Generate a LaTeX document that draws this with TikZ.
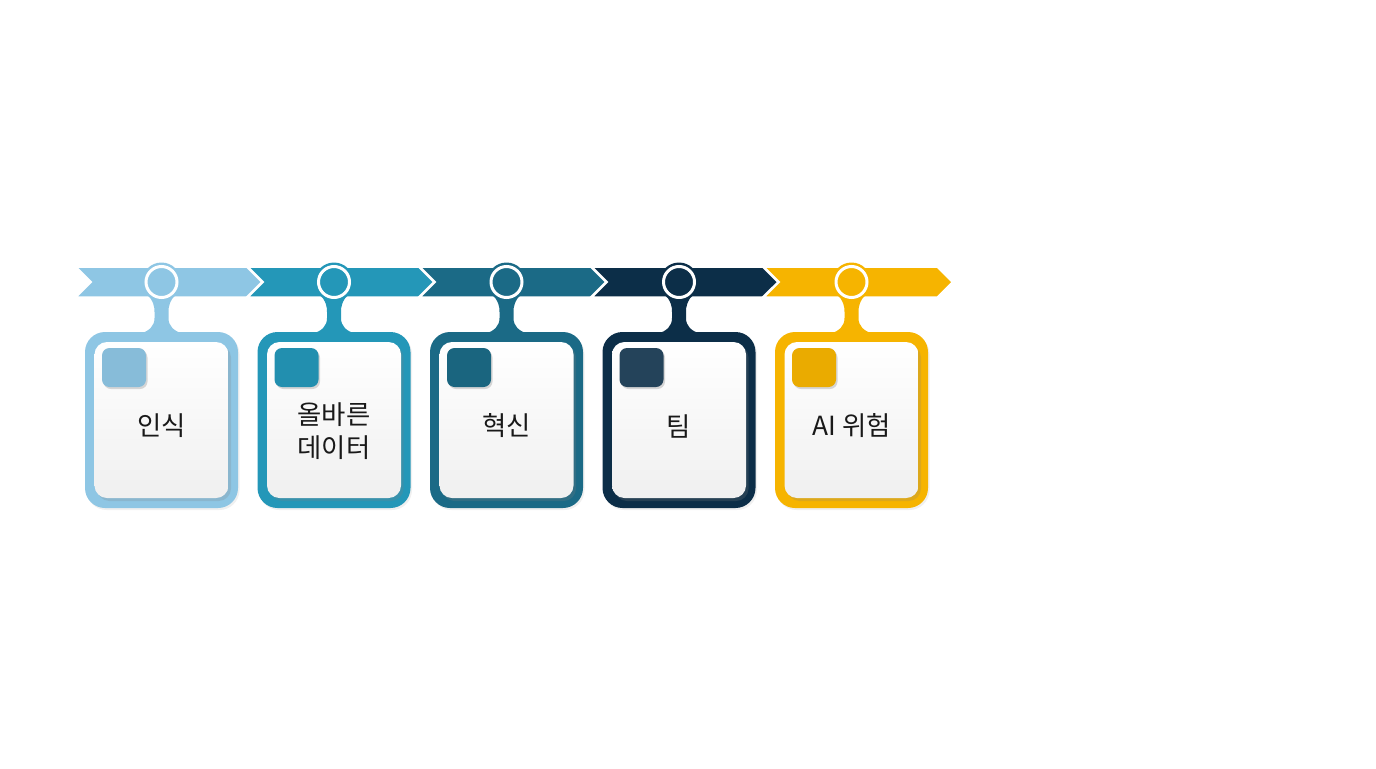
\documentclass[tikz,border=0pt]{standalone}
\usepackage{xcolor}
\usepackage{fontspec}
\setmainfont{Noto Sans CJK KR}
\usepackage{tikz}
\usetikzlibrary{shapes.symbols,shadows}

\definecolor{stepA}{HTML}{8EC6E4}
\definecolor{stepB}{HTML}{2497B8}
\definecolor{stepC}{HTML}{1B6A86}
\definecolor{stepD}{HTML}{0C2E48}
\definecolor{stepE}{HTML}{F6B400}

\begin{document}
\begin{tikzpicture}[every node/.style={font=\fontsize{15}{19}\selectfont, text=black!90},
    chevron/.style={signal, signal from=west, signal to=east, signal pointer angle=90, draw=white, line width=0.05cm, minimum width=3.8cm, minimum height=0.62cm, inner sep=0pt},
    dot/.style={circle, minimum size=0.78cm, inner sep=0pt},
    ring/.style={draw=white, line width=0.06cm},
    neck/.pic={\fill[pic actions] (-0.28,-0.24) .. controls (-0.16,-0.40) and (-0.14,-0.48) .. (-0.14,-0.60) -- (-0.14,-0.72) .. controls (-0.14,-0.88) and (-0.24,-0.98) .. (-0.44,-1.04) -- (0.44,-1.04) .. controls (0.24,-0.98) and (0.14,-0.88) .. (0.14,-0.72) -- (0.14,-0.60) .. controls (0.14,-0.48) and (0.16,-0.40) .. (0.28,-0.24) -- cycle;},
    frame/.style={draw=none, rectangle, rounded corners=0.4cm, minimum width=3.06cm, minimum height=3.52cm, drop shadow={shadow xshift=0.03cm, shadow yshift=-0.04cm, opacity=0.12}},
    card/.style={rectangle, rounded corners=0.25cm, minimum width=2.68cm, minimum height=3.12cm, top color=white, bottom color=black!6, drop shadow={shadow xshift=0.05cm, shadow yshift=-0.06cm, opacity=0.22}},
    icon/.style={rectangle, rounded corners=0.15cm, minimum width=0.88cm, minimum height=0.78cm, drop shadow={shadow xshift=0.03cm, shadow yshift=-0.04cm, opacity=0.3}}]
    \useasboundingbox (0,0) rectangle (27.52,-15.36);

    % Arrow band
    \node[chevron, fill=stepA] (arrow1) at (3.40,-5.64) {};
    \node[chevron, fill=stepB] (arrow2) at (6.84,-5.64) {};
    \node[chevron, fill=stepC] (arrow3) at (10.28,-5.64) {};
    \node[chevron, fill=stepD] (arrow4) at (13.72,-5.64) {};
    \node[chevron, fill=stepE] (arrow5) at (17.16,-5.64) {};

    % Necks down to the frames
    \pic[fill=stepA] (neck1) at (3.23,-5.64) {neck};
    \pic[fill=stepB] (neck2) at (6.68,-5.64) {neck};
    \pic[fill=stepC] (neck3) at (10.13,-5.64) {neck};
    \pic[fill=stepD] (neck4) at (13.58,-5.64) {neck};
    \pic[fill=stepE] (neck5) at (17.03,-5.64) {neck};

    % Dots on the band
    \node[dot, fill=stepA] (dot1) at (3.23,-5.64) {};
    \node[dot, fill=stepB] (dot2) at (6.68,-5.64) {};
    \node[dot, fill=stepC] (dot3) at (10.13,-5.64) {};
    \node[dot, fill=stepD] (dot4) at (13.58,-5.64) {};
    \node[dot, fill=stepE] (dot5) at (17.03,-5.64) {};
    \draw[ring] (dot1) circle (0.31cm);
    \draw[ring] (dot2) circle (0.31cm);
    \draw[ring] (dot3) circle (0.31cm);
    \draw[ring] (dot4) circle (0.31cm);
    \draw[ring] (dot5) circle (0.31cm);

    % Frames
    \node[frame, fill=stepA] (frame1) at (3.23,-8.4) {};
    \node[frame, fill=stepB] (frame2) at (6.68,-8.4) {};
    \node[frame, fill=stepC] (frame3) at (10.13,-8.4) {};
    \node[frame, fill=stepD] (frame4) at (13.58,-8.4) {};
    \node[frame, fill=stepE] (frame5) at (17.03,-8.4) {};

    % Cards
    \node[card] (card1) at (3.23,-8.4) {};
    \node[card] (card2) at (6.68,-8.4) {};
    \node[card] (card3) at (10.13,-8.4) {};
    \node[card] (card4) at (13.58,-8.4) {};
    \node[card] (card5) at (17.03,-8.4) {};

    \node[icon, fill=stepA!95!black] (icon1) at (2.48,-7.35) {};
    \node[icon, fill=stepB!95!black] (icon2) at (5.93,-7.35) {};
    \node[icon, fill=stepC!95!black] (icon3) at (9.38,-7.35) {};
    \node[icon, fill=stepD!90!white] (icon4) at (12.83,-7.35) {};
    \node[icon, fill=stepE!95!black] (icon5) at (16.28,-7.35) {};

    % Labels
    \node[align=center] (label1) at (3.23,-8.52) {인식};
    \node[align=center] (label2) at (6.68,-8.62) {올바른\\데이터};
    \node[align=center] (label3) at (10.13,-8.52) {혁신};
    \node[align=center] (label4) at (13.58,-8.52) {팀};
    \node[align=center] (label5) at (17.03,-8.52) {AI 위험};
\end{tikzpicture}
\end{document}
